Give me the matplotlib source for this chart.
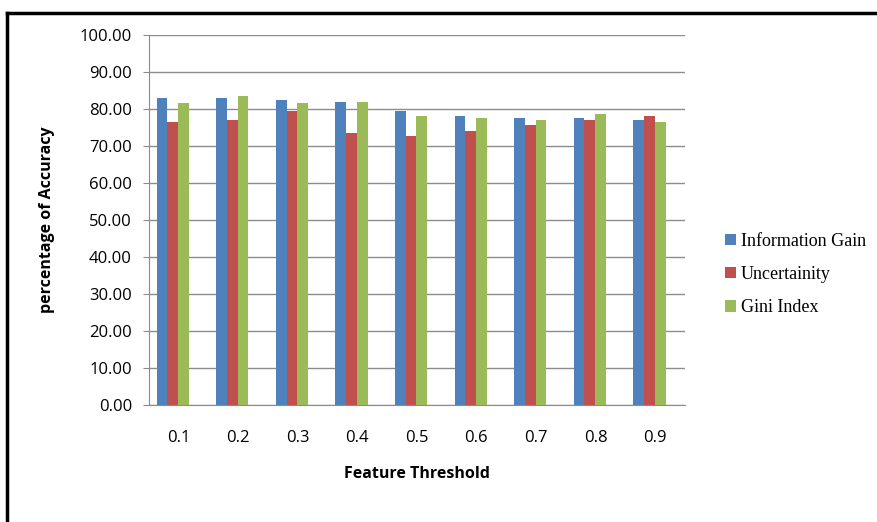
import matplotlib
matplotlib.use("Agg")
import matplotlib.pyplot as plt
import numpy as np
from matplotlib.lines import Line2D

categories = ["0.1", "0.2", "0.3", "0.4", "0.5", "0.6", "0.7", "0.8", "0.9"]
info_gain = [83.0, 83.0, 82.5, 82.0, 79.5, 78.1, 77.5, 77.5, 77.0]
uncertainty = [76.5, 77.1, 79.5, 73.6, 72.6, 74.1, 75.6, 77.1, 78.1]
gini_index = [81.5, 83.5, 81.5, 82.0, 78.1, 77.5, 77.0, 78.6, 76.5]
series_names = ["Information Gain", "Uncertainity", "Gini Index"]
colors = ["#4F81BD", "#C0504D", "#9BBB59"]

fig = plt.figure(figsize=(8.77, 5.22), dpi=100)
ax = fig.add_axes([0.1695, 0.224, 0.6115, 0.709])

x = np.arange(len(categories))
w = 0.18
group_shift = -0.096
for i, (vals, c, n) in enumerate(zip([info_gain, uncertainty, gini_index], colors, series_names)):
    ax.bar(x + group_shift + (i - 1) * w, vals, width=w, color=c, label=n, zorder=3)

ax.set_xlim(-0.5, len(categories) - 0.5)
ax.set_ylim(0, 100)
ax.set_yticks(np.arange(0, 101, 10))
ax.set_yticklabels([f"{v:.2f}" for v in np.arange(0, 101, 10)], fontsize=12, family="Open Sans")
ax.set_xticks(x)
ax.set_xticklabels(categories, fontsize=12, family="Open Sans")
ax.grid(axis="y", color="#8c8c8c", linewidth=1, zorder=0)
for s in ["top", "right"]:
    ax.spines[s].set_visible(False)
for s in ["left", "bottom"]:
    ax.spines[s].set_color("#8c8c8c")
ax.tick_params(axis="y", length=4, color="#8c8c8c", pad=8)
ax.tick_params(axis="x", length=0, pad=18)
ax.set_ylabel("percentage of Accuracy", fontsize=11.5, fontweight="bold", family="Open Sans", labelpad=18)
ax.set_xlabel("Feature Threshold", fontsize=11.5, fontweight="bold", family="Open Sans", labelpad=14)

leg = fig.legend(loc="center left", bbox_to_anchor=(0.808, 0.474), frameon=False,
                 prop={"family": "Liberation Serif", "size": 13},
                 handlelength=0.6, handleheight=0.6, handletextpad=0.3, labelspacing=0.9)

# outer frame lines
fig.add_artist(Line2D([0.008, 0.008], [0, 0.975], transform=fig.transFigure, color="black", linewidth=2.5))
fig.add_artist(Line2D([0.008, 1.0], [0.975, 0.975], transform=fig.transFigure, color="black", linewidth=2.5))

fig.savefig("out.png", dpi=100)
